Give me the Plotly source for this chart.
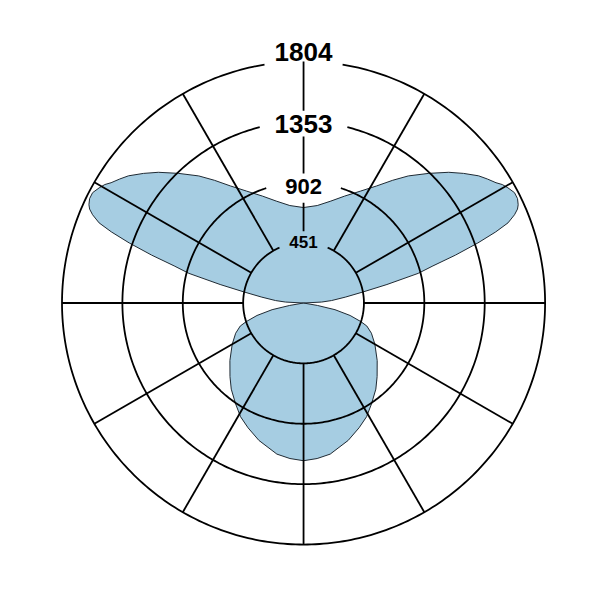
import plotly.graph_objects as go
import numpy as np

# polar light distribution, values in cd
gamma = [0, 5, 10, 18, 24, 29, 34, 40, 45, 52, 60, 66, 70, 72, 75, 78, 80, 90,
         93, 95, 98, 100.6, 102.5, 104.5, 106, 107.5, 109, 110.3, 111.4, 112.7,
         113.7, 114.6, 116, 117.6, 119.4, 120.8, 122, 124, 126, 129, 132, 136,
         140.5, 144, 148, 153, 159, 165, 172, 180]
intensity = [1178, 1166, 1146, 1079, 1020, 971, 908, 840, 777, 698, 615, 555,
             503, 450, 360, 240, 105, 0,
             135, 210, 315, 458, 638, 885, 1005, 1190, 1376, 1530, 1640, 1708,
             1745, 1763, 1778, 1778, 1752, 1728, 1695, 1656, 1616, 1538, 1459,
             1346, 1230, 1133, 1031, 938, 855, 788, 735, 713]

rings = [451, 902, 1353, 1804]
ring_labels = ["451", "902", "1353", "1804"]
spoke_angles = [a for a in range(0, 360, 30)]

# gaps in the circles / vertical spoke where the labels sit
label_gap = [23.5, 18, 14, 9.3]
top_spoke = [(535, 748), (968, 1243), (1435, 1804)]
label_r = [443, 857, 1315, 1857]
label_size = [17, 22, 26, 26]

BLACK = "#000000"
R_MAX = 1900  # room outside the last ring for its label

fig = go.Figure()

# C0-C180 plane, mirrored
theta = gamma + [360 - g for g in gamma[::-1]]
r = intensity + intensity[::-1]
fig.add_trace(go.Scatterpolar(
    r=r, theta=theta, mode="lines", fill="toself",
    fillcolor="#a6cde2", line=dict(color="#1f2a33", width=1),
    cliponaxis=False, hoverinfo="skip"))

# rings
for R, g in zip(rings, label_gap):
    th = np.linspace(180 + g, 540 - g, 361)
    fig.add_trace(go.Scatterpolar(
        r=[R] * len(th), theta=th, mode="lines",
        line=dict(color=BLACK, width=1.8), cliponaxis=False, hoverinfo="skip"))

# spokes
sr, st = [], []
for a in spoke_angles:
    if a == 180:
        for lo, hi in top_spoke:
            sr += [lo, hi, None]
            st += [a, a, None]
    else:
        sr += [rings[0], rings[-1], None]
        st += [a, a, None]
fig.add_trace(go.Scatterpolar(
    r=sr, theta=st, mode="lines", line=dict(color=BLACK, width=1.8),
    cliponaxis=False, hoverinfo="skip"))

# ring labels
fig.add_trace(go.Scatterpolar(
    r=label_r, theta=[180] * len(rings), mode="text", text=ring_labels,
    textposition="middle center",
    textfont=dict(family="Liberation Sans", size=label_size, color=BLACK, weight="bold"),
    cliponaxis=False, hoverinfo="skip"))

fig.update_layout(
    width=601, height=601,
    margin=dict(l=0, r=0, t=0, b=0),
    paper_bgcolor="white",
    showlegend=False,
    polar=dict(
        domain=dict(x=[0.0817, 0.92845], y=[0.07255, 0.91913]),
        bgcolor="white",
        radialaxis=dict(range=[0, R_MAX], visible=False, showgrid=False),
        angularaxis=dict(visible=False, showgrid=False, rotation=270,
                         direction="counterclockwise"),
    ),
)

# page has a default 8px body margin, drop it
fig.write_html("out.html", config={"displayModeBar": False},
               post_script="document.body.style.margin='0';")
